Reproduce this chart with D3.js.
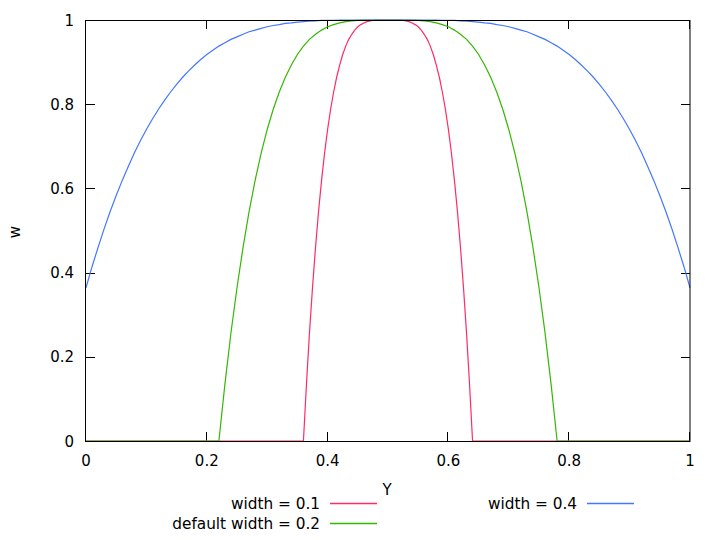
<!DOCTYPE html>
<html>
<head>
<meta charset="utf-8">
<script src="https://cdn.jsdelivr.net/npm/d3@7"></script>
<style>
  html, body { margin: 0; padding: 0; background: #fff; }
  svg { display: block; font-family: "DejaVu Sans", sans-serif; }
</style>
</head>
<body>
<svg id="chart" width="720" height="540"></svg>
<script>
// ---- data ----
const xTicks = [0, 0.2, 0.4, 0.6, 0.8, 1];
const yTicks = [0, 0.2, 0.4, 0.6, 0.8, 1];
const xTickLabels = ["0", "0.2", "0.4", "0.6", "0.8", "1"];
const yTickLabels = ["0", "0.2", "0.4", "0.6", "0.8", "1"];
const seriesNames = ["width = 0.1", "default width = 0.2", "width = 0.4"];
const seriesColors = ["#ff2a66", "#33b800", "#4477ff"];

// width = 0.1
const redX = [0,
  0.36, 0.365, 0.37, 0.375, 0.38, 0.385, 0.39, 0.395, 0.40, 0.405, 0.41, 0.415, 0.42, 0.425,
  0.43, 0.435, 0.44, 0.445, 0.45, 0.455, 0.46, 0.465, 0.47, 0.475, 0.48, 0.485, 0.49, 0.495,
  0.50, 0.505, 0.51, 0.515, 0.52, 0.525, 0.53, 0.535, 0.54, 0.545, 0.55, 0.555, 0.56, 0.565,
  0.57, 0.575, 0.58, 0.585, 0.59, 0.595, 0.60, 0.605, 0.61, 0.615, 0.62, 0.625, 0.63, 0.635, 0.64,
  1];
const redW = [0,
  0, 0.135, 0.257, 0.364, 0.460, 0.545, 0.619, 0.684, 0.740, 0.788, 0.829, 0.864, 0.893, 0.918,
  0.938, 0.954, 0.966, 0.976, 0.984, 0.989, 0.993, 0.996, 0.998, 0.999, 1, 1, 1, 1,
  1, 1, 1, 1, 1, 0.999, 0.998, 0.996, 0.993, 0.989, 0.984, 0.976, 0.966, 0.954,
  0.938, 0.918, 0.893, 0.864, 0.829, 0.788, 0.740, 0.684, 0.619, 0.545, 0.460, 0.364, 0.257, 0.135, 0,
  0];

// default width = 0.2
const greenX = [0,
  0.22, 0.23, 0.24, 0.25, 0.26, 0.27, 0.28, 0.29, 0.30, 0.31, 0.32, 0.33, 0.34, 0.35,
  0.36, 0.37, 0.38, 0.39, 0.40, 0.41, 0.42, 0.43, 0.44, 0.45, 0.46, 0.47, 0.48, 0.49,
  0.50, 0.51, 0.52, 0.53, 0.54, 0.55, 0.56, 0.57, 0.58, 0.59, 0.60, 0.61, 0.62, 0.63,
  0.64, 0.65, 0.66, 0.67, 0.68, 0.69, 0.70, 0.71, 0.72, 0.73, 0.74, 0.75, 0.76, 0.77, 0.78,
  1];
const greenW = [0,
  0, 0.135, 0.257, 0.364, 0.460, 0.545, 0.619, 0.684, 0.740, 0.788, 0.829, 0.864, 0.893, 0.918,
  0.938, 0.954, 0.966, 0.976, 0.984, 0.989, 0.993, 0.996, 0.998, 0.999, 1, 1, 1, 1,
  1, 1, 1, 1, 1, 0.999, 0.998, 0.996, 0.993, 0.989, 0.984, 0.976, 0.966, 0.954,
  0.938, 0.918, 0.893, 0.864, 0.829, 0.788, 0.740, 0.684, 0.619, 0.545, 0.460, 0.364, 0.257, 0.135, 0,
  0];

// width = 0.4
const blueX = [
  0.00, 0.01, 0.02, 0.03, 0.04, 0.05, 0.06, 0.07, 0.08, 0.09,
  0.10, 0.11, 0.12, 0.13, 0.14, 0.15, 0.16, 0.17, 0.18, 0.19,
  0.20, 0.21, 0.22, 0.23, 0.24, 0.25, 0.26, 0.27, 0.28, 0.29,
  0.30, 0.31, 0.32, 0.33, 0.34, 0.35, 0.36, 0.37, 0.38, 0.39,
  0.40, 0.41, 0.42, 0.43, 0.44, 0.45, 0.46, 0.47, 0.48, 0.49,
  0.50, 0.51, 0.52, 0.53, 0.54, 0.55, 0.56, 0.57, 0.58, 0.59,
  0.60, 0.61, 0.62, 0.63, 0.64, 0.65, 0.66, 0.67, 0.68, 0.69,
  0.70, 0.71, 0.72, 0.73, 0.74, 0.75, 0.76, 0.77, 0.78, 0.79,
  0.80, 0.81, 0.82, 0.83, 0.84, 0.85, 0.86, 0.87, 0.88, 0.89,
  0.90, 0.91, 0.92, 0.93, 0.94, 0.95, 0.96, 0.97, 0.98, 0.99,
  1.00];
const blueW = [
  0.364, 0.414, 0.460, 0.504, 0.545, 0.583, 0.619, 0.652, 0.684, 0.713,
  0.740, 0.765, 0.788, 0.809, 0.829, 0.847, 0.864, 0.879, 0.893, 0.906,
  0.918, 0.928, 0.938, 0.946, 0.954, 0.960, 0.966, 0.972, 0.976, 0.980,
  0.984, 0.987, 0.989, 0.992, 0.993, 0.995, 0.996, 0.997, 0.998, 0.999,
  0.999, 0.999, 1, 1, 1, 1, 1, 1, 1, 1,
  1, 1, 1, 1, 1, 1, 1, 1, 1, 0.999,
  0.999, 0.999, 0.998, 0.997, 0.996, 0.995, 0.993, 0.992, 0.989, 0.987,
  0.984, 0.980, 0.976, 0.972, 0.966, 0.960, 0.954, 0.946, 0.938, 0.928,
  0.918, 0.906, 0.893, 0.879, 0.864, 0.847, 0.829, 0.809, 0.788, 0.765,
  0.740, 0.713, 0.684, 0.652, 0.619, 0.583, 0.545, 0.504, 0.460, 0.414,
  0.364];

const seriesX = [redX, greenX, blueX];
const seriesW = [redW, greenW, blueW];

// ---- layout ----
const L = 86, R = 690, T = 20, B = 441;
const svg = d3.select("#chart");
const x = d3.scaleLinear().domain([0, 1]).range([L, R]);
const y = d3.scaleLinear().domain([0, 1]).range([B, T]);
const FS = 15;

// ticks (inward, mirrored)
const tickLen = 9;
const axisG = svg.append("g").attr("stroke", "#000").attr("stroke-width", 1);
xTicks.forEach(v => {
  const px = Math.round(x(v)) - 0.5;
  axisG.append("line").attr("x1", px).attr("x2", px).attr("y1", B).attr("y2", B - tickLen);
  axisG.append("line").attr("x1", px).attr("x2", px).attr("y1", T).attr("y2", T + tickLen);
});
yTicks.forEach(v => {
  const py = Math.round(y(v)) + 0.5;
  axisG.append("line").attr("x1", L).attr("x2", L + tickLen).attr("y1", py).attr("y2", py);
  axisG.append("line").attr("x1", R).attr("x2", R - tickLen).attr("y1", py).attr("y2", py);
});

// tick labels
const labG = svg.append("g").attr("font-size", FS).attr("fill", "#000");
xTicks.forEach((v, i) => {
  labG.append("text").attr("x", x(v)).attr("y", 466)
    .attr("text-anchor", "middle").text(xTickLabels[i]);
});
yTicks.forEach((v, i) => {
  labG.append("text").attr("x", 74).attr("y", y(v) + 5.5)
    .attr("text-anchor", "end").text(yTickLabels[i]);
});

// axis labels
svg.append("text").attr("x", 387).attr("y", 495).attr("font-size", FS)
  .attr("text-anchor", "middle").text("Y");
svg.append("text").attr("transform", "translate(20,232) rotate(-90)")
  .attr("font-size", FS).attr("text-anchor", "middle").text("w");

// curves
const line = d3.line().x(d => x(d[0])).y(d => y(d[1]));
seriesX.forEach((xs, i) => {
  const pts = xs.map((v, j) => [v, seriesW[i][j]]);
  svg.append("path").datum(pts).attr("d", line)
    .attr("fill", "none").attr("stroke", seriesColors[i]).attr("stroke-width", 1.2);
});

// border
svg.append("rect").attr("x", L - 0.5).attr("y", T + 0.5)
  .attr("width", R - L + 0.5).attr("height", B - T)
  .attr("fill", "none").attr("stroke", "#000").attr("stroke-width", 1);

// legend
const legendPos = [
  { tx: 320, ly: 503, lx1: 330, lx2: 377 },
  { tx: 320, ly: 523, lx1: 330, lx2: 377 },
  { tx: 577, ly: 503, lx1: 587, lx2: 634 }
];
seriesNames.forEach((name, i) => {
  const p = legendPos[i];
  svg.append("text").attr("x", p.tx).attr("y", p.ly + 5.5).attr("font-size", FS + 0.3)
    .attr("text-anchor", "end").text(name);
  svg.append("path")
    .attr("d", `M${p.lx1},${p.ly + 0.5}H${p.lx2}`)
    .attr("fill", "none")
    .attr("stroke", seriesColors[i]).attr("stroke-width", 1.5);
});
</script>
</body>
</html>
